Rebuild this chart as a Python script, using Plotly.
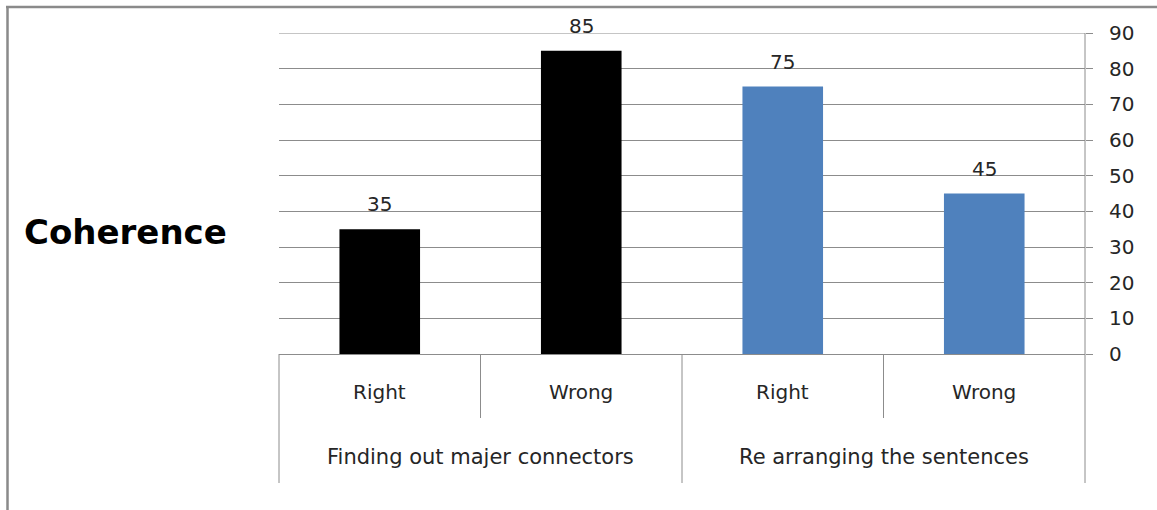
import plotly.graph_objects as go

groups = ["Finding out majer connectors", "Re arranging the sentences"]
answers = ["Right", "Wrong", "Right", "Wrong"]
values = [35, 85, 75, 45]
bar_colors = ["#000000", "#000000", "#4F81BD", "#4F81BD"]
title_text = "Coherence"
y_max = 90

W, H = 1157, 510
L, R, T, B = 279, 1085, 33, 354   # plot area pixels
pw, ph = R - L, B - T

def px_x(px):
    return (px - L) / pw

def px_y(py):
    return (B - py) / ph

pos = list(range(len(values)))
font = "DejaVu Sans, sans-serif"
txt = "#262626"
gridc = "#8c8c8c"

fig = go.Figure(go.Bar(
    x=pos, y=values, marker=dict(color=bar_colors, line=dict(width=0)),
    hoverinfo="skip",
))

shapes = []
ann = []
# data labels
for i, v in zip(pos, values):
    ann.append(dict(x=i, xref="x", y=v, yref="y", text=str(v), showarrow=False,
                    font=dict(family=font, size=20, color=txt), xanchor="center",
                    yanchor="bottom", yshift=11))
# category labels (inner level)
for i, a in enumerate(answers):
    ann.append(dict(x=i, xref="x", y=px_y(392), yref="paper", text=a, showarrow=False,
                    font=dict(family=font, size=20, color=txt), xanchor="center", yanchor="middle"))
# group labels (outer level)
n_per = len(answers) // len(groups)
for g, name in enumerate(groups):
    xc = g * n_per + (n_per - 1) / 2
    ann.append(dict(x=xc, xref="x", y=px_y(457), yref="paper", text=name, showarrow=False,
                    font=dict(family=font, size=21, color=txt), xanchor="center", yanchor="middle"))
# title
ann.append(dict(x=px_x(125), xref="paper", y=px_y(232), yref="paper", text="<b>" + title_text + "</b>",
                showarrow=False, font=dict(family=font, size=34, color="#000000"),
                xanchor="center", yanchor="middle"))

# top gridline (at the range edge)
shapes.append(dict(type="line", xref="paper", yref="y", x0=0, x1=1, y0=y_max, y1=y_max,
                   line=dict(color=gridc, width=1)))
# dividers for the category axis
n = len(answers)
for k in range(n + 1):
    xp = k / n
    outer = (k % n_per == 0)
    y1 = px_y(483) if outer else px_y(418)
    y0 = 1.0 if k == n else 0.0
    shapes.append(dict(type="line", xref="paper", yref="paper", x0=xp, x1=xp, y0=y0, y1=y1,
                       line=dict(color=gridc, width=1)))
# chart frame (left and top edges)
shapes.append(dict(type="line", xref="paper", yref="paper", x0=px_x(7.5), x1=px_x(7.5),
                   y0=px_y(6), y1=px_y(520), line=dict(color="#8a8a8a", width=2.5)))
shapes.append(dict(type="line", xref="paper", yref="paper", x0=px_x(6), x1=px_x(1170),
                   y0=px_y(7), y1=px_y(7), line=dict(color="#8a8a8a", width=2.5)))

fig.update_layout(
    width=W, height=H, margin=dict(l=L, r=W - R, t=T, b=H - B, pad=0),
    paper_bgcolor="white", plot_bgcolor="white", showlegend=False,
    bargap=0.6, shapes=shapes, annotations=ann,
    xaxis=dict(range=[-0.5, n - 0.5], showticklabels=False, showgrid=False, zeroline=False,
               showline=True, linecolor=gridc, linewidth=1, ticks=""),
    yaxis=dict(side="right", range=[0, y_max], dtick=10, showgrid=True, gridcolor=gridc, gridwidth=1,
               zeroline=False, showline=False, ticks="outside", ticklen=7, tickcolor=gridc,
               tickfont=dict(family=font, size=20, color=txt), ticklabelstandoff=12),
)

fig.write_html("out.html")
